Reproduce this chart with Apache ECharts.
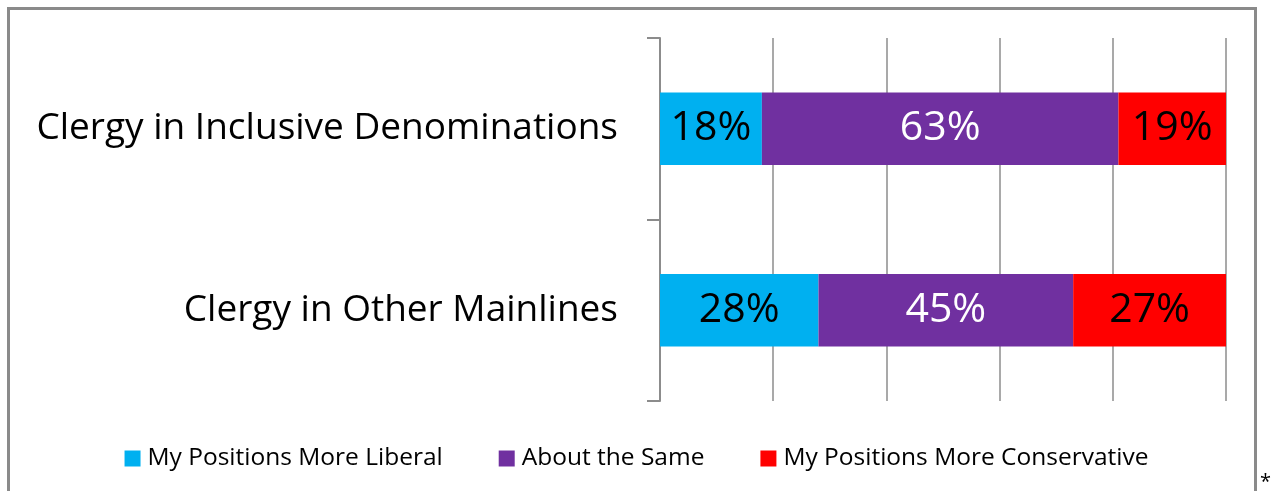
<!DOCTYPE html>
<html>
<head>
<meta charset="utf-8">
<script src="https://cdn.jsdelivr.net/npm/echarts@6/dist/echarts.min.js"></script>
<style>
html,body{margin:0;padding:0;background:#fff;}
#chart{width:1273px;height:491px;}
</style>
</head>
<body>
<div id="chart"></div>
<script>
const categories = ['Clergy in Inclusive Denominations', 'Clergy in Other Mainlines'];
const seriesNames = ['My Positions More Liberal', 'About the Same', 'My Positions More Conservative'];
const liberal = [18, 28];
const same = [63, 45];
const conservative = [19, 27];
const xTicks = [0, 20, 40, 60, 80, 100];

const FONT = '"Open Sans", "Noto Sans", sans-serif';
const colors = ['#00B0F0', '#7030A0', '#FF0000'];
const labelColors = ['#000000', '#ffffff', '#000000'];
const values = [liberal, same, conservative];

const chart = echarts.init(document.getElementById('chart'));
chart.setOption({
  animation: false,
  textStyle: { fontFamily: FONT },
  graphic: [
    { type: 'rect', shape: { x: 8.5, y: 8.5, width: 1247, height: 520 },
      style: { fill: 'none', stroke: '#8a8a8a', lineWidth: 3 }, silent: true },
    { type: 'text', left: 1260, top: 472,
      style: { text: '*', font: '20px ' + FONT, fill: '#000' } }
  ],
  grid: { left: 660, right: 47, top: 38, bottom: 90 },
  legend: {
    data: seriesNames,
    left: 'center',
    top: 441,
    icon: 'rect',
    itemWidth: 16,
    itemHeight: 16,
    itemGap: 56,
    textStyle: { fontFamily: FONT, fontSize: 24.5, color: '#000', padding: [0, 0, 0, 2] }
  },
  xAxis: {
    type: 'value',
    min: xTicks[0],
    max: xTicks[xTicks.length - 1],
    interval: xTicks[1] - xTicks[0],
    axisLabel: { show: false },
    axisLine: { show: false },
    axisTick: { show: false },
    splitLine: { show: true, lineStyle: { color: '#8c8c8c', width: 1.5 } }
  },
  yAxis: {
    type: 'category',
    data: categories,
    inverse: true,
    axisLine: { show: true, lineStyle: { color: '#8c8c8c', width: 2 } },
    axisTick: { show: true, length: 13, lineStyle: { color: '#8c8c8c', width: 2 } },
    axisLabel: { margin: 42, fontSize: 37, color: '#000', fontFamily: FONT }
  },
  series: seriesNames.map((name, i) => ({
    name: name,
    type: 'bar',
    stack: 'total',
    data: values[i],
    barWidth: '40%',
    itemStyle: { color: colors[i] },
    label: {
      show: true,
      position: 'inside',
      formatter: '{c}%',
      fontSize: 41,
      fontFamily: FONT,
      color: labelColors[i]
    }
  }))
});
</script>
</body>
</html>
